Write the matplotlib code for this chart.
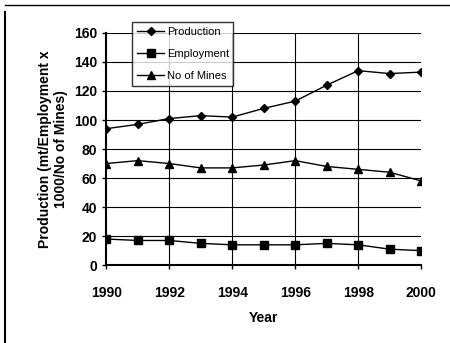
import matplotlib
matplotlib.use('Agg')
import matplotlib.pyplot as plt

# dati
years = [1990, 1991, 1992, 1993, 1994, 1995, 1996, 1997, 1998, 1999, 2000]
production = [94, 97, 101, 103, 102, 108, 113, 124, 134, 132, 133]
employment = [18, 17, 17, 15, 14, 14, 14, 15, 14, 11, 10]
mines = [70, 72, 70, 67, 67, 69, 72, 68, 66, 64, 58]

plt.rcParams['font.family'] = ['Liberation Sans', 'DejaVu Sans']

fig = plt.figure(figsize=(4.5, 3.43), dpi=100)
ax = fig.add_axes([0.236, 0.227, 0.70, 0.677])

# griglia
for y in range(20, 161, 20):
    ax.axhline(y, color='black', linewidth=0.8, zorder=0)
for x in [1992, 1994, 1996, 1998]:
    ax.axvline(x, color='black', linewidth=0.8, zorder=0)

ax.plot(years, production, marker='D', markersize=4, color='black', linewidth=1, label='Production')
ax.plot(years, employment, marker='s', markersize=6, color='black', linewidth=1, label='Employment')
ax.plot(years, mines, marker='^', markersize=6, color='black', linewidth=1, label='No of Mines')

ax.set_xlim(1990, 2000)
ax.set_ylim(0, 160)
ax.set_xticks(range(1990, 2001, 2))
ax.set_yticks(range(0, 161, 20))
ax.tick_params(axis='both', labelsize=10, width=1, length=3)
ax.tick_params(axis='x', pad=12)
for lab in ax.get_xticklabels() + ax.get_yticklabels():
    lab.set_fontweight('bold')

for s in ['top', 'right']:
    ax.spines[s].set_visible(False)
ax.spines['left'].set_linewidth(1.5)
ax.spines['bottom'].set_linewidth(1.5)

ax.set_xlabel('Year', fontsize=10, fontweight='bold', labelpad=8)
ax.set_ylabel('Production (mt/Employment x\n1000/No of Mines)', fontsize=10, fontweight='bold', labelpad=4)

leg = ax.legend(loc='upper left', bbox_to_anchor=(0.065, 1.07), fontsize=8, frameon=True,
                fancybox=False, edgecolor='black', handlelength=2.5, borderpad=0.4,
                labelspacing=1.1, handletextpad=0.2)
leg.get_frame().set_linewidth(1)

# cornice della figura
fig.add_artist(plt.Line2D([0.011, 0.011], [0, 0.965], color='black', linewidth=1.5))
fig.add_artist(plt.Line2D([0.011, 1], [0.985, 0.985], color='black', linewidth=1))

fig.savefig('out.png', dpi=100)
